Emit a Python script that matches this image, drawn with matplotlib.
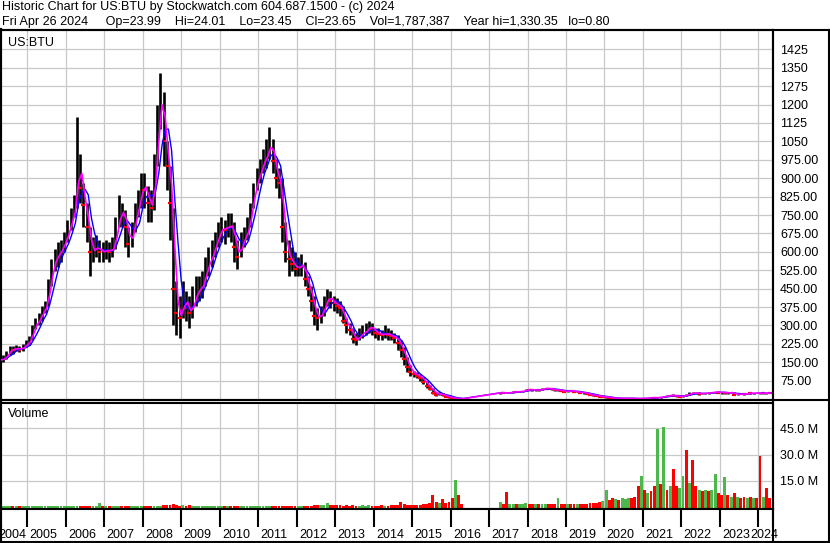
import numpy as np
import pandas as pd
import matplotlib
matplotlib.use("Agg")
import matplotlib.pyplot as plt
from matplotlib.lines import Line2D
from matplotlib.ticker import FuncFormatter

# ---------------- data (monthly) ----------------
# segment 1: Apr 2004 .. Apr 2016, segment 2: Apr 2017 .. Apr 2024 (trading gap between)
seg1_start, seg1_end = "2004-04-01", "2016-04-01"
seg2_start, seg2_end = "2017-04-01", "2024-04-01"

close = [
    160, 165, 185, 205, 200, 210, 200, 215, 225,                       # 2004
    240, 290, 310, 330, 360, 380, 470, 540, 580, 590, 620, 650,        # 2005
    690, 740, 790, 980, 860, 790, 700, 600, 610, 620, 600, 600,        # 2006
    610, 600, 620, 700, 760, 760, 700, 630, 680, 760, 800, 880,        # 2007
    850, 800, 780, 950, 1150, 1250, 1050, 950, 800, 450, 350, 330,     # 2008
    420, 370, 350, 400, 440, 450, 470, 540, 560, 600, 640, 680,        # 2009
    700, 690, 710, 700, 620, 580, 640, 660, 700, 780, 860, 900,        # 2010
    940, 980, 1000, 1050, 970, 900, 880, 700, 600, 570, 550, 530,      # 2011
    540, 550, 490, 450, 400, 340, 330, 350, 390, 420, 400, 390,        # 2012
    380, 370, 320, 300, 280, 245, 240, 265, 270, 280, 300, 280,        # 2013
    270, 265, 260, 270, 260, 255, 250, 230, 200, 165, 130, 110,        # 2014
    100, 95, 85, 70, 55, 40, 25, 18, 22, 15, 10, 7,                    # 2015
    4, 2, 1.5, 0.9,                                                    # 2016
    26, 25, 25, 27, 30, 29, 31, 32, 39,                                # 2017
    38, 36, 37, 36, 43, 43, 42, 39, 36, 38, 33, 30,                    # 2018
    34, 33, 29, 29, 25, 25, 21, 16, 15, 13, 10, 9,                     # 2019
    7, 5, 3, 3, 3, 3, 3, 3, 2, 1.5, 2, 2.4,                            # 2020
    3, 4, 6, 5, 6, 8, 11, 13, 16, 13, 11, 10,                          # 2021
    14, 18, 24, 24, 24, 21, 23, 24, 25, 28, 29, 26,                    # 2022
    27, 25, 25, 27, 17, 20, 21, 19, 25, 23, 24, 24,                    # 2023
    24, 23, 24, 23.65,                                                 # 2024
]
high = [
    175, 180, 195, 215, 215, 220, 215, 225, 240,
    255, 300, 330, 350, 380, 400, 490, 570, 610, 640, 650, 680,
    730, 780, 830, 1150, 1000, 880, 800, 700, 660, 670, 650, 640,
    650, 640, 660, 740, 830, 800, 770, 700, 720, 800, 850, 920,
    920, 870, 850, 1000, 1200, 1330, 1250, 1050, 950, 780, 480, 420,
    480, 440, 420, 460, 500, 500, 520, 580, 620, 650, 680, 720,
    740, 730, 760, 760, 720, 650, 680, 700, 740, 800, 880, 940,
    980, 1020, 1060, 1110, 1060, 980, 940, 900, 720, 650, 620, 600,
    580, 590, 560, 500, 460, 420, 370, 380, 420, 450, 440, 420,
    410, 400, 380, 330, 310, 290, 270, 290, 300, 310, 320, 310,
    290, 290, 280, 300, 290, 280, 270, 260, 240, 210, 170, 140,
    115, 110, 100, 90, 75, 58, 45, 28, 30, 25, 18, 12,
    8, 4, 3, 2,
    28, 27, 27, 28, 31, 31, 32, 34, 40,
    42, 40, 39, 38, 44, 46, 45, 43, 40, 40, 39, 35,
    36, 35, 34, 33, 30, 28, 26, 21, 17, 17, 14, 11,
    10, 8, 6, 4, 4, 4, 4, 4, 3, 3, 3, 3,
    4, 5, 7, 7, 7, 9, 12, 16, 18, 21, 14, 12,
    15, 22, 29, 29, 27, 28, 26, 26, 29, 30, 30, 32,
    29, 28, 27, 28, 27, 21, 22, 22, 26, 26, 25, 25,
    25, 24, 25, 26,
]
low = [
    150, 150, 165, 180, 185, 195, 190, 195, 210,
    220, 240, 285, 300, 320, 350, 380, 460, 520, 540, 560, 600,
    640, 690, 740, 780, 800, 700, 640, 500, 560, 580, 560, 560,
    570, 560, 580, 610, 700, 700, 620, 580, 620, 680, 740, 780,
    780, 720, 720, 770, 950, 1100, 950, 850, 650, 300, 260, 250,
    330, 320, 290, 330, 380, 400, 410, 460, 500, 540, 580, 620,
    640, 630, 660, 640, 560, 530, 580, 620, 650, 700, 780, 850,
    880, 920, 940, 980, 920, 860, 820, 640, 560, 500, 520, 500,
    500, 500, 460, 420, 360, 300, 280, 310, 340, 380, 370, 360,
    350, 340, 310, 270, 260, 230, 220, 240, 250, 260, 270, 260,
    250, 240, 240, 250, 240, 240, 230, 200, 170, 140, 110, 95,
    90, 85, 75, 60, 45, 35, 20, 12, 15, 12, 7, 5,
    3, 1.5, 1, 0.8,
    22, 23, 23, 24, 26, 27, 28, 29, 31,
    35, 33, 34, 34, 36, 40, 40, 37, 34, 34, 31, 28,
    29, 31, 27, 28, 23, 21, 19, 15, 13, 11, 8, 8,
    6, 4, 2, 2, 2, 2.5, 2.5, 2.5, 1.8, 1.2, 1.3, 1.8,
    2.3, 3, 4, 4, 4, 6, 8, 11, 11, 11, 10, 8,
    9, 12, 17, 20, 20, 18, 19, 21, 21, 25, 25, 24,
    21, 22, 21, 24, 17, 18, 19, 18, 19, 22, 22, 23,
    22, 20, 22, 23,
]
# volume in millions of shares (weekly-scale bar heights)
volume = [
    0.3, 0.3, 0.3, 0.3, 0.3, 0.3, 0.3, 0.3, 0.3,
    0.3, 0.3, 0.4, 0.3, 0.3, 0.3, 0.4, 0.4, 0.5, 0.4, 0.4, 0.4,
    0.4, 0.4, 0.5, 0.5, 0.5, 0.4, 0.4, 0.4, 0.4, 0.4, 2.5, 0.4,
    0.4, 0.4, 0.4, 0.5, 0.5, 0.4, 0.6, 0.7, 0.5, 0.5, 0.5, 0.6,
    0.6, 0.7, 0.7, 0.7, 0.7, 0.8, 1.0, 1.0, 1.3, 1.6, 1.0, 0.8,
    0.9, 0.8, 1.0, 0.8, 0.7, 0.6, 0.6, 0.6, 0.5, 0.5, 0.5, 0.5,
    0.5, 0.5, 0.5, 0.5, 0.6, 0.6, 0.5, 0.4, 0.4, 0.5, 0.4, 0.4,
    0.4, 0.4, 0.5, 0.5, 0.5, 0.5, 0.5, 0.7, 0.7, 0.7, 0.6, 0.6,
    0.7, 0.6, 0.7, 0.7, 0.8, 0.9, 0.9, 0.9, 1.0, 2.3, 1.0, 0.9,
    0.9, 0.9, 0.8, 0.9, 0.8, 1.0, 0.8, 0.7, 1.2, 0.7, 0.9, 0.8,
    0.7, 0.8, 0.9, 0.8, 0.7, 0.9, 1.0, 1.0, 3.0, 1.5, 1.2, 1.4,
    1.0, 1.2, 1.0, 1.5, 1.8, 2.5, 6.9, 3.0, 2.5, 4.6, 2.5, 3.0,
    5.0, 15.4, 7.0, 2.0,
    3.0, 2.0, 8.4, 2.0, 2.0, 1.8, 1.8, 2.0, 2.5,
    2.0, 2.0, 1.8, 1.8, 2.0, 2.0, 1.8, 1.5, 1.8, 5.0, 2.0, 1.8,
    1.8, 1.8, 1.5, 1.5, 1.8, 1.8, 2.0, 2.5, 2.5, 2.5, 3.0, 3.5,
    9.7, 4.0, 5.0, 4.5, 4.0, 5.0, 4.5, 5.0, 5.0, 6.0, 12.0, 17.7,
    10.0, 8.0, 9.0, 12.0, 44.6, 13.0, 45.7, 10.0, 12.0, 22.0, 12.0, 11.0,
    18.0, 32.6, 13.5, 27.0, 12.0, 10.0, 9.0, 10.0, 9.0, 10.0, 18.7, 8.0,
    7.0, 17.0, 7.0, 6.0, 8.0, 6.0, 5.0, 6.0, 5.0, 6.0, 5.0, 5.0,
    29.0, 6.0, 10.9, 5.0,
]
# U = up period (green volume), D = down period (red volume)
vol_dir = (
    "UUUUDUDUU"
    "UUUUUUUUUUUU"
    "UUUUDDDDUUUD"
    "UDUUUDDDUUUU"
    "DDDUUUDDDDDD"
    "UDDUUUUUUUUU"
    "UDUDDDUUUUUU"
    "UUUUDDDDDDDD"
    "UUDDDDDUUUDD"
    "DDDDDDDUUUUD"
    "DDDUDDDDDDDD"
    "DDDDDDDDUDDD"
    "DUDD"
    "UDDUUDUUU"
    "DDUDUUDDDUDD"
    "UDDUDDDDDDDU"
    "UDDUDUUUDDDU"
    "DUDDUDUDUDDU"
    "UDUDDUDUDUUD"
    "DUDUDUDDUDUD"
    "DUDD"
)
years = list(range(2004, 2025))
price_ticks = [75 * k for k in range(1, 20)]
vol_ticks = [15, 30, 45]

header1 = "Historic Chart for US:BTU by Stockwatch.com 604.687.1500 - (c) 2024"
header2 = ("Fri Apr 26 2024     Op=23.99    Hi=24.01    Lo=23.45    Cl=23.65    "
           "Vol=1,787,387    Year hi=1,330.35   lo=0.80")

# ---------------- derived ----------------
dates = pd.date_range(seg1_start, seg1_end, freq="MS").append(
    pd.date_range(seg2_start, seg2_end, freq="MS"))
t = np.asarray(dates.year + (dates.month - 0.5) / 12.0)
t_end = t + 0.5 / 12.0
seg = np.where(dates < pd.Timestamp(seg2_start), 0, 1)
c = pd.Series(close, dtype=float)
ma_short = c.groupby(seg).transform(lambda s: s.rolling(2, min_periods=1).mean())
ma_long = c.groupby(seg).transform(lambda s: s.rolling(4, min_periods=1).mean())
vol = np.array(volume) * 1e6
up = np.array([d == "U" for d in vol_dir])
down_close = np.r_[False, np.diff(c.values) < 0]

# ---------------- figure ----------------
FONT = "Liberation Sans"
plt.rcParams["font.family"] = [FONT, "DejaVu Sans"]
W, H = 830, 543
fig = plt.figure(figsize=(W / 100, H / 100), dpi=100)
fig.patch.set_facecolor("white")


def box(x0, y0, x1, y1):
    return [x0 / W, 1 - y1 / H, (x1 - x0) / W, (y1 - y0) / H]


X0, X1 = 2004.29, 2024.38
GRID = "#c8c8c8"
FS = 9

ax_p = fig.add_axes(box(0, 30, 773, 400))
ax_v = fig.add_axes(box(0, 403, 773, 509))
ax_t = fig.add_axes(box(0, 509, 773, 527))
ax_l = fig.add_axes(box(0, 527, 779, 541))

for ax in (ax_p, ax_v, ax_t):
    ax.set_xticks(years)
    ax.set_xlim(X0, X1)
    ax.tick_params(axis="x", length=0, labelbottom=False)
    for sp in ax.spines.values():
        sp.set_linewidth(1.5)
        sp.set_color("black")
    ax.spines["left"].set_linewidth(3)

# price panel
ax_p.set_yticks(price_ticks)
ax_p.set_ylim(-4, 1504)
ax_p.yaxis.tick_right()
ax_p.yaxis.set_major_formatter(FuncFormatter(lambda v, p: f"{v:.0f}" if v >= 1000 else f"{v:.2f}"))
ax_p.tick_params(axis="y", length=0, pad=5, labelsize=FS)
ax_p.grid(True, color=GRID, lw=0.9)
ax_p.set_axisbelow(True)
ax_p.vlines(t, low, high, color="black", lw=1.9, zorder=2)
ax_p.plot(t[down_close], c.values[down_close], ls="none", marker="_",
          ms=3, mew=1.6, color="#ff0000", zorder=3)
ax_p.plot(t_end, ma_long, color="#0000ff", lw=1.0, zorder=4)
ax_p.plot(t_end, ma_short, color="#ff00ff", lw=1.2, zorder=5)
ax_p.text(8 / 773, 1 - 7 / 370, "US:BTU", transform=ax_p.transAxes,
          fontsize=FS, va="top", ha="left")

# volume panel
ax_v.set_yticks([v * 1e6 for v in vol_ticks])
ax_v.set_ylim(-1.14e6, 59.5e6)
ax_v.yaxis.tick_right()
ax_v.yaxis.set_major_formatter(FuncFormatter(lambda v, p: f"{v/1e6:.1f} M"))
ax_v.tick_params(axis="y", length=0, pad=5, labelsize=FS)
ax_v.grid(True, color=GRID, lw=0.9)
ax_v.set_axisbelow(True)
vb = -1.14e6
ax_v.bar(t, vol - vb, bottom=vb, width=1 / 12 * 0.9,
         color=np.where(up, "#4cb84c", "#ff0000"), lw=0, zorder=2)
ax_v.text(8 / 773, 1 - 5 / 106, "Volume", transform=ax_v.transAxes,
          fontsize=FS, va="top", ha="left")

# tick box row
ax_t.set_yticks([])
for y in years:
    ax_t.axvline(y, color="black", lw=1.5)
ax_t.spines["bottom"].set_visible(False)

# label row (slightly wider than the plot so the last label shows as in the reference)
XL1 = X0 + (X1 - X0) * 779 / 773
ax_l.set_xlim(X0, XL1)
ax_l.set_xticks([])
ax_l.set_yticks([])
for sp in ("top", "right", "bottom"):
    ax_l.spines[sp].set_visible(False)
ax_l.spines["left"].set_linewidth(3)
for i, y in enumerate(years):
    if i == 0:
        xx, ha = y + 1 - 0.03, "right"
    elif i == len(years) - 1:
        xx, ha = XL1 - 0.01, "right"
    else:
        xx, ha = y + 0.06, "left"
    ax_l.text(xx, 0.45, str(y), fontsize=FS, ha=ha, va="center", clip_on=True)


# outer frame lines
def hline(y, x0=0, x1=W, lw=1.5):
    fig.add_artist(Line2D([x0 / W, x1 / W], [1 - y / H, 1 - y / H],
                          color="black", lw=lw, transform=fig.transFigure))


def vline(x, y0, y1, lw=1.5):
    fig.add_artist(Line2D([x / W, x / W], [1 - y0 / H, 1 - y1 / H],
                          color="black", lw=lw, transform=fig.transFigure))


hline(30)
hline(400)
hline(541.5)
vline(829, 30, 542)
vline(773, 30, 542)

fig.text(2 / W, 1 - 1 / H, header1, fontsize=FS, va="top", ha="left")
fig.text(2 / W, 1 - 16 / H, header2, fontsize=FS, va="top", ha="left")

fig.savefig("out.png", dpi=100)
